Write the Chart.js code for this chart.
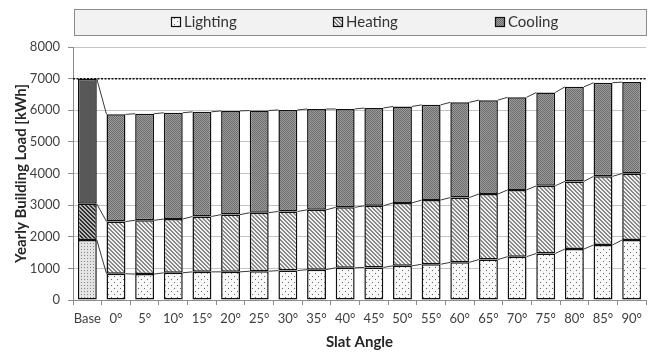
<!DOCTYPE html>
<html><head><meta charset="utf-8">
<script src="https://cdn.jsdelivr.net/npm/chart.js@4.4.0/dist/chart.umd.min.js"></script>
<style>html,body{margin:0;padding:0;background:#fff;}</style>
</head><body>
<canvas id="c" width="653" height="352" style="display:block;width:653px;height:352px"></canvas>
<script>
const categories = ['Base','0°','5°','10°','15°','20°','25°','30°','35°','40°','45°','50°','55°','60°','65°','70°','75°','80°','85°','90°'];
const lighting = [1900, 830, 820, 860, 890, 890, 910, 930, 960, 1020, 1030, 1080, 1130, 1190, 1280, 1370, 1470, 1610, 1740, 1900];
const heating  = [1140, 1650, 1700, 1700, 1750, 1810, 1850, 1870, 1890, 1910, 1950, 1990, 2030, 2050, 2070, 2110, 2140, 2140, 2170, 2100];
const cooling  = [3960, 3390, 3370, 3360, 3310, 3280, 3230, 3210, 3190, 3110, 3090, 3050, 3010, 3010, 2970, 2930, 2950, 2990, 2960, 2890];
const seriesNames = ['Lighting','Heating','Cooling'];
const baseTotal = 7000;
const yMax = 8000, yStep = 1000;
const xTitle = 'Slat Angle';
const yTitle = 'Yearly Building Load [kWh]';

const canvas = document.getElementById('c');
const ctx = canvas.getContext('2d');
function pat(w,h,fn){const c=document.createElement('canvas');c.width=w;c.height=h;const g=c.getContext('2d');fn(g,w,h);return ctx.createPattern(c,'repeat');}
function px(g,x,y,col){g.fillStyle=col;g.fillRect(x,y,1,1);}
const pLight = pat(6,6,(g,w,h)=>{g.fillStyle='#f8f8f8';g.fillRect(0,0,w,h);px(g,0,0,'#666');px(g,3,3,'#666');});
const pLightBase = pat(3,3,(g,w,h)=>{g.fillStyle='#e4e4e4';g.fillRect(0,0,w,h);px(g,0,0,'#8a8a8a');});
const pHeat = pat(4,4,(g,w,h)=>{g.fillStyle='#f0f0f0';g.fillRect(0,0,w,h);for(let y=0;y<h;y++)for(let x=0;x<w;x++){const m=((x-y)%4+4)%4;if(m<2)px(g,x,y,'#8a8a8a');}});
const pHeatBase = pat(4,4,(g,w,h)=>{g.fillStyle='#b8b8b8';g.fillRect(0,0,w,h);for(let y=0;y<h;y++)for(let x=0;x<w;x++){const m=((x-y)%4+4)%4;if(m<2)px(g,x,y,'#2e2e2e');}});
const pCool = pat(2,2,(g,w,h)=>{g.fillStyle='#9c9c9c';g.fillRect(0,0,w,h);px(g,0,0,'#6c6c6c');px(g,1,1,'#6c6c6c');});
const pCoolBase = '#585858';

const fills = [
  categories.map((c,i)=> i===0 ? pLightBase : pLight),
  categories.map((c,i)=> i===0 ? pHeatBase : pHeat),
  categories.map((c,i)=> i===0 ? pCoolBase : pCool)
];
const legendFills = [pLight, pHeat, pCool];

const legendPlugin = {
  id:'boxLegend',
  afterDraw(chart){
    const g = chart.ctx;
    const ca = chart.chartArea;
    g.save();
    g.fillStyle='#f2f2f2'; g.strokeStyle='#8c8c8c'; g.lineWidth=1;
    g.fillRect(ca.left+1, 9, ca.right-ca.left-1, 27);
    g.strokeRect(ca.left+1.5, 9.5, ca.right-ca.left-1, 26);
    const xs = [171, 333, 495];
    g.font = '15px Lato'; g.textBaseline='middle'; g.fillStyle='#333';
    seriesNames.forEach((n,k)=>{
      g.fillStyle = legendFills[k]; g.fillRect(xs[k], 17, 10, 10);
      g.strokeStyle='#111'; g.lineWidth=1.2; g.strokeRect(xs[k]+0.5, 17.5, 9, 9);
      g.fillStyle='#333'; g.fillText(n, xs[k]+13, 22.5);
    });
    g.restore();
  }
};

const refLinePlugin = {
  id:'refLine',
  beforeDatasetsDraw(chart){
    const g = chart.ctx, ca = chart.chartArea, y = chart.scales.y.getPixelForValue(baseTotal);
    g.save(); g.strokeStyle='#111'; g.lineWidth=1.5; g.setLineDash([2,1.5]);
    g.beginPath(); g.moveTo(ca.left, y); g.lineTo(ca.right, y); g.stroke(); g.restore();
  },
  afterDatasetsDraw(chart){
    const g = chart.ctx;
    g.save(); g.strokeStyle='#3a3a3a'; g.lineWidth=1;
    for(let d=0; d<3; d++){
      const els = chart.getDatasetMeta(d).data;
      g.beginPath();
      for(let i=0;i<els.length-1;i++){
        const a=els[i], b=els[i+1];
        g.moveTo(a.x + a.width/2, a.y); g.lineTo(b.x - b.width/2, b.y);
      }
      g.stroke();
    }
    g.restore();
  }
};

const tickFont = {family:'Lato', size:13};
new Chart(ctx, {
  type:'bar',
  data:{
    labels: categories,
    datasets: [
      {label:seriesNames[0], data:lighting, backgroundColor:fills[0]},
      {label:seriesNames[1], data:heating, backgroundColor:fills[1]},
      {label:seriesNames[2], data:cooling, backgroundColor:fills[2]}
    ].map(ds=>Object.assign(ds,{borderColor:'#111', borderWidth:1.5, borderSkipped:false, categoryPercentage:1, barPercentage:0.66}))
  },
  options:{
    responsive:false, animation:false, devicePixelRatio:1,
    layout:{padding:{top:47, right:7, left:0, bottom:0}},
    plugins:{legend:{display:false}, tooltip:{enabled:false}},
    scales:{
      x:{stacked:true, offset:true,
        grid:{display:true, offset:true, drawOnChartArea:false, drawTicks:true, tickLength:5, tickColor:'#8c8c8c'},
        border:{display:true, color:'#8c8c8c', width:1},
        ticks:{color:'#404040', font:tickFont, padding:6, maxRotation:0, autoSkip:false},
        title:{display:true, text:xTitle, color:'#262626', font:{family:'Lato', size:15, weight:'bold'}, padding:{top:0,bottom:1}},
        afterFit(s){ s.height = 52; }
      },
      y:{stacked:true, min:0, max:yMax,
        ticks:{stepSize:yStep, color:'#404040', font:tickFont, padding:8, callback:(v)=>String(v)},
        grid:{color:'#c4c4c4', tickLength:5, tickColor:'#8c8c8c'},
        border:{display:true, color:'#8c8c8c', width:1},
        title:{display:true, text:yTitle, color:'#262626', font:{family:'Lato', size:15, weight:'bold'}, padding:{top:12,bottom:0}},
        afterFit(s){ s.width = 73; }
      }
    }
  },
  plugins:[refLinePlugin, legendPlugin]
});
</script>
</body></html>
